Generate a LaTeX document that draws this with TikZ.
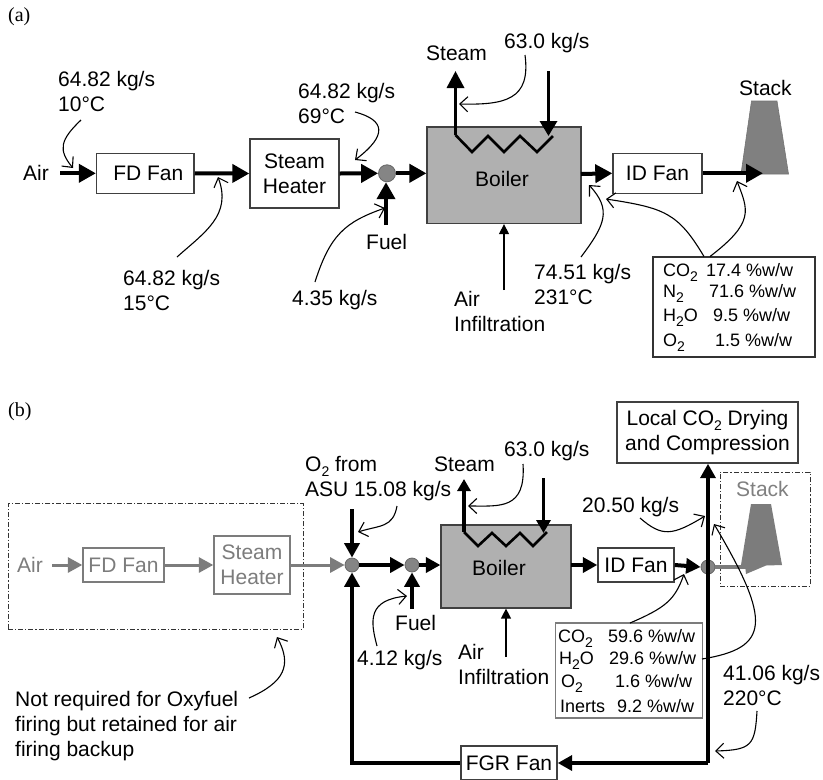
\documentclass[tikz,border=0pt]{standalone}
\usepackage{fontspec}
\setmainfont{Liberation Sans}
\newfontfamily\serifpanel{Liberation Serif}
\usetikzlibrary{arrows.meta,calc}
\newcommand{\lowtwo}{\raisebox{-5pt}{\fontsize{14}{14}\selectfont 2}}
\definecolor{boilergray}{HTML}{B0B0B0}
\definecolor{stackgray}{HTML}{808080}
\definecolor{nodegray}{HTML}{858585}
\definecolor{fadegray}{HTML}{7C7C7C}
\tikzset{
  txt/.style={anchor=base west,inner sep=0pt,font=\fontsize{21}{25}\selectfont},
  txtm/.style={anchor=south west,inner sep=0pt,text depth=0pt,align=left,font=\fontsize{21}{25}\selectfont},
  rowtxt/.style={anchor=base west,inner sep=0pt,font=\fontsize{18}{22}\selectfont},
  panel/.style={anchor=base west,inner sep=0pt,font=\serifpanel\fontsize{20}{24}\selectfont},
  boxn/.style={draw=black!75,line width=1.4pt,fill=white,inner sep=0pt,align=center,font=\fontsize{21}{25}\selectfont},
  fadebox/.style={boxn,draw=fadegray,text=fadegray},
  boilerbox/.style={draw=black!75,line width=1.2pt,fill=boilergray,inner sep=0pt},
  junction/.style={circle,draw=black!60,line width=.8pt,fill=nodegray,inner sep=0pt},
  flowa/.style={line width=4pt,-{Triangle[length=17pt,width=18pt]}},
  flowb/.style={line width=4pt,-{Triangle[length=14.5pt,width=15pt]}},
  fadeflow/.style={line width=3pt,draw=fadegray,-{Triangle[length=14.5pt,width=15pt]},fadegray},
  coil/.style={line width=2.6pt,line join=miter},
  thina/.style={line width=1.3pt,-{Triangle[length=10pt,width=10pt]}},
  leader/.style={line width=1.1pt,-{Straight Barb[length=8pt,width=15pt]}},
  dashbox/.style={draw=black!80,line width=1pt,dash pattern=on 5pt off 2pt on 1.2pt off 2pt},
  tablebox/.style={draw=black!80,line width=1.2pt,fill=white,inner sep=0pt}
}
\begin{document}
\begin{tikzpicture}[x=1pt,y=-1pt]
\useasboundingbox (0,0) rectangle (823,780);
\fill[white] (0,0) rectangle (823,780);

%% ---------- panel (a) ----------
\node[panel] (pa) at (8,21) {(a)};
\node[boxn,minimum width=97.5pt,minimum height=40pt] (fda) at (145.3,173.3) {\hspace{6pt}FD Fan};
\node[boxn,minimum width=89pt,minimum height=69pt] (sha) at (294.5,173.5) {Steam\\Heater};
\node[boilerbox,minimum width=154pt,minimum height=96.5pt] (boila) at (504,175.3) {};
\node[boxn,minimum width=89pt,minimum height=40pt] (ida) at (657.5,173.3) {ID Fan};
\node[junction,minimum size=17pt] (ja) at (387,173.3) {};
\node[txt] (boilat) at (475,186) {Boiler};
\fill[stackgray,draw=black!55,line width=.6pt] (751.5,101) -- (777,101) -- (788.5,174) -- (741,174) -- cycle;
\node[txt] (stacka) at (739,95) {Stack};

\node[txt] (aira) at (23,180) {Air};
\coordinate (airas) at (60,173.3);
\draw[flowa] (airas) -- (fda.west);
\draw[flowa] (fda.east) -- (sha.west);
\draw[flowa] (sha.east) -- (ja.west);
\draw[flowa] (ja.east) -- (ja.east -| boila.west);
\coordinate (bouta) at (581,174);
\draw[flowa] (bouta) -- (ida.west);
\coordinate (stackin) at (763,173.3);
\draw[flowa] (ida.east) -- (stackin);
\node[txt] (fuela) at (366,249) {Fuel};
\coordinate (fuelas) at (386,225);
\draw[flowa] (fuelas) -- (fuelas |- ja.south);

% coil
\coordinate (c1a) at (455.5,135);
\draw[coil] (c1a) -- (472,152) -- (488,136) -- (504,152) -- (520,136) -- (537,152) -- (553,136);
\coordinate (stoa) at (455.5,71);
\draw[line width=3.4pt,-{Triangle[length=17pt,width=17pt]}] (c1a) -- (stoa);
\coordinate (wina) at (548.5,71);
\coordinate (wina2) at (548.5,136);
\draw[line width=3.4pt,-{Triangle[length=15pt,width=17pt]}] (wina) -- (wina2);
\node[txt] (steama) at (426,60) {Steam};
\node[txt] (ra) at (504,48) {63.0 kg/s};
\coordinate (rab) at (525,55);
\coordinate (rat) at (459,104);
\draw[leader] (rab) .. controls (531,100) and (505,105) .. (rat);

\coordinate (ifa) at (504,290);
\draw[thina] (ifa) -- (ifa |- boila.south);
\node[txtm] (aifa) at (454,332) {Air\\Infiltration};

\node[txtm] (l1) at (58,112) {64.82 kg/s\\10\textdegree C};
\coordinate (l1s) at (81,120);
\coordinate (l1e) at (73,168);
\draw[leader] (l1s) .. controls (60,140) and (58,150) .. (l1e);
\node[txtm] (l2) at (123,311) {64.82 kg/s\\15\textdegree C};
\coordinate (l2s) at (177,257);
\coordinate (l2e) at (218,177);
\draw[leader] (l2s) .. controls (205,232) and (232,215) .. (l2e);
\node[txtm] (l3) at (298,124) {64.82 kg/s\\69\textdegree C};
\coordinate (l3s) at (355,112);
\coordinate (l3e) at (355,160);
\draw[leader] (l3s) .. controls (385,120) and (388,135) .. (l3e);
\node[txt] (l4) at (292,305) {4.35 kg/s};
\coordinate (l4s) at (315,282);
\coordinate (l4e) at (385,208);
\draw[leader] (l4s) .. controls (330,235) and (345,222) .. (l4e);
\node[txtm] (l5) at (534,305) {74.51 kg/s\\231\textdegree C};
\coordinate (l5s) at (581,257);
\coordinate (l5e) at (589,185);
\draw[leader] (l5s) .. controls (605,225) and (612,210) .. (l5e);

\node[tablebox,minimum width=162pt,minimum height=100pt] (taba) at (734,307) {};
\draw[line width=1.6pt,black!80] (taba.south west) -- (taba.south east);
\node[rowtxt] (ta1) at (663,276) {CO\lowtwo};
\node[rowtxt] (ta1v) at (706,276) {17.4 \%w/w};
\node[rowtxt] (ta2) at (663,297) {N\lowtwo};
\node[rowtxt] (ta2v) at (709,297) {71.6 \%w/w};
\node[rowtxt] (ta3) at (663,321) {H\lowtwo O};
\node[rowtxt] (ta3v) at (713,321) {9.5 \%w/w};
\node[rowtxt] (ta4) at (663,346) {O\lowtwo};
\node[rowtxt] (ta4v) at (715,346) {1.5 \%w/w};
\coordinate (tal) at (704,256.5);
\coordinate (tar) at (710,256.5);
\coordinate (tale) at (606,199);
\coordinate (tare) at (737,181);
\draw[leader] (tal) .. controls (678,213) and (665,208) .. (tale);
\draw[leader] (tar) .. controls (755,222) and (748,210) .. (tare);

%% ---------- panel (b) ----------
\node[panel] (pb) at (8,416) {(b)};
\node[dashbox,minimum width=295pt,minimum height=125.5pt,inner sep=0pt] (dashl) at (155.5,566.3) {};
\node[dashbox,minimum width=90pt,minimum height=114pt,inner sep=0pt] (dashr) at (765,529) {};
\node[fadebox,minimum width=81pt,minimum height=34pt] (fdb) at (123.5,565) {FD Fan};
\node[fadebox,minimum width=76pt,minimum height=58pt] (shb) at (252,565) {Steam\\Heater};
\node[boilerbox,minimum width=130pt,minimum height=83pt] (boilb) at (506,566.5) {};
\node[txt] (boilbt) at (472,575) {Boiler};
\node[boxn,minimum width=76pt,minimum height=34pt] (idb) at (636,565) {ID Fan};
\node[boxn,minimum width=96pt,minimum height=34pt] (fgr) at (509,763) {FGR Fan};
\node[boxn,minimum width=181pt,minimum height=61pt] (ccs) at (707.5,432.5) {Local CO\lowtwo\ Drying\\and Compression};
\node[junction,minimum size=14pt] (j1) at (352,565) {};
\node[junction,minimum size=14pt] (j2) at (412,565) {};
\node[junction,minimum size=14pt] (j3) at (708,567) {};

\node[txt,text=fadegray] (airb) at (17,572) {Air};
\coordinate (airbs) at (52,565);
\draw[fadeflow] (airbs) -- (fdb.west);
\draw[fadeflow] (fdb.east) -- (shb.west);
\draw[fadeflow] (shb.east) -- (j1.west);
\draw[flowb] (j1.east) -- (j2.west);
\draw[flowb] (j2.east) -- (j2.east -| boilb.west);
\coordinate (boutb) at (571,565);
\draw[flowb] (boutb) -- (idb.west);
\draw[flowb] (idb.east) -- (j3.west);

\coordinate (o2s) at (352,509);
\draw[flowb] (o2s) -- (j1.north);
\coordinate (corner1) at (708,763);
\coordinate (corner2) at (352,763);
\draw[flowb] (corner1) -- (fgr.east);
\draw[flowb,line join=miter] (fgr.west) -- (corner2) -- (j1.south);
\draw[flowb,line width=4.4pt,line join=miter] (j3.south |- corner1) -- (ccs.south -| j3.south);
\coordinate (fuelbs) at (412,609);
\draw[flowb] (fuelbs) -- (j2.south);
\node[txt] (fuelb) at (395,630) {Fuel};

% stack (b)
\draw[line width=3.6pt,fadegray] (j3.east) -- (748,567);
\fill[fadegray] (751,504) -- (771,504) -- (782,565) -- (766,565.5) -- (746,574) -- (745,565) -- (741,565) -- cycle;
\node[txt,text=stackgray] (stackb) at (736,496) {Stack};

% coil (b)
\coordinate (c1b) at (464,532);
\draw[coil] (c1b) -- (478,546) -- (492,533) -- (506,546) -- (520,533) -- (533,546) -- (547,532);
\coordinate (stob) at (464,479);
\draw[line width=3.4pt,-{Triangle[length=12pt,width=13pt]}] (c1b) -- (stob);
\coordinate (winb) at (543.5,478);
\coordinate (winb2) at (543.5,533);
\draw[line width=3.4pt,-{Triangle[length=13pt,width=14pt]}] (winb) -- (winb2);
\node[txt] (steamb) at (434,471) {Steam};
\node[txt] (rb) at (504,456) {63.0 kg/s};
\coordinate (rbb) at (523,464);
\coordinate (rbt) at (468,506);
\draw[leader] (rbb) .. controls (526,510) and (500,506) .. (rbt);

\coordinate (ifb) at (506,657);
\draw[thina] (ifb) -- (ifb |- boilb.south);
\node[txtm] (aifb) at (458,685) {Air\\Infiltration};

\node[txtm] (o2l) at (305,497) {O\lowtwo\ from\\ASU 15.08 kg/s};
\coordinate (o2ls) at (397,506);
\coordinate (o2le) at (358,532);
\draw[leader] (o2ls) .. controls (393,528) and (380,525) .. (o2le);
\node[txt] (fb) at (357,665) {4.12 kg/s};
\coordinate (fbs) at (377,646);
\coordinate (fbe) at (407,596);
\draw[leader] (fbs) .. controls (370,620) and (368,600) .. (fbe);
\node[txtm] (note) at (15,757) {Not required for Oxyfuel\\firing but retained for air\\firing backup};
\coordinate (notes) at (249,698);
\coordinate (notee) at (277,637);
\draw[leader] (notes) .. controls (285,682) and (292,665) .. (notee);
\node[txt] (cpb) at (582,512) {20.50 kg/s};
\coordinate (cps) at (640,518);
\coordinate (cpe) at (705,516);
\draw[leader] (cps) .. controls (662,537) and (672,536) .. (cpe);
\node[txtm] (fgl) at (723,706) {41.06 kg/s\\220\textdegree C};
\coordinate (fgs) at (757,711);
\coordinate (fge) at (715,751);
\draw[leader] (fgs) .. controls (755,745) and (752,750) .. (fge);

\node[tablebox,draw=fadegray,minimum width=147pt,minimum height=95pt] (tabb) at (555,670.5) [anchor=west] {};
\node[rowtxt] (tb1) at (558,642) {CO\lowtwo};
\node[rowtxt] (tb1v) at (608,642) {59.6 \%w/w};
\node[rowtxt] (tb2) at (559,664) {H\lowtwo O};
\node[rowtxt] (tb2v) at (609,664) {29.6 \%w/w};
\node[rowtxt] (tb3) at (561,687) {O\lowtwo};
\node[rowtxt] (tb3v) at (615,687) {1.6 \%w/w};
\node[rowtxt] (tb4) at (560,712) {Inerts};
\node[rowtxt] (tb4v) at (617,712) {9.2 \%w/w};
\coordinate (tbl) at (630,623);
\coordinate (tbe) at (684,574);
\coordinate (tbr) at (702,659);
\coordinate (tbre) at (714,524);
\draw[leader] (tbl) .. controls (665,608) and (675,600) .. (tbe);
\draw[leader] (tbr) .. controls (770,648) and (772,622) .. (tbre);
\end{tikzpicture}
\end{document}
